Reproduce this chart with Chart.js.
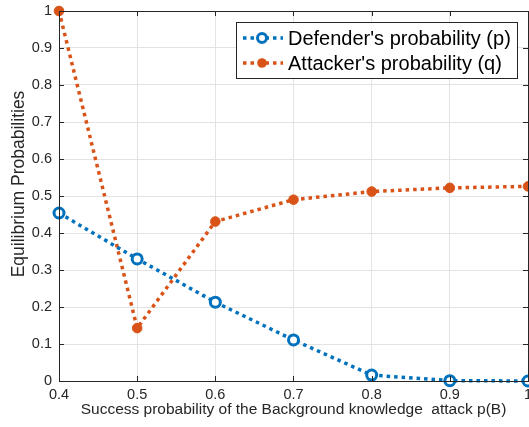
<!DOCTYPE html>
<html><head><meta charset="utf-8">
<script src="https://cdn.jsdelivr.net/npm/chart.js@4/dist/chart.umd.min.js"></script>
<style>html,body{margin:0;padding:0;overflow:hidden;background:#fff;width:529px;height:427px}
#wrap{position:absolute;left:0;top:0;width:560px;height:427px}</style>
</head><body><div id="wrap"><canvas id="c" width="560" height="427"></canvas></div>
<script>
const xValues = [0.4, 0.5, 0.6, 0.7, 0.8, 0.9, 1.0];
const defenderP = [0.454, 0.330, 0.213, 0.111, 0.016, 0.001, 0.000];
const attackerQ = [1.000, 0.143, 0.431, 0.490, 0.512, 0.522, 0.526];
const seriesNames = ["Defender's probability (p)", "Attacker's probability (q)"];
const xTitle = "Success probability of the Background knowledge  attack p(B)";
const yTitle = "Equilibrium Probabilities";
const blue = '#0072BD', orange = '#D95319', axisCol = '#262626';
const FONT = '"Liberation Sans", Arial, sans-serif';

const boxPlugin = {
  id: 'boxPlugin',
  afterDraw(chart) {
    const {ctx} = chart;
    ctx.save();
    ctx.translate(19, 184);
    ctx.rotate(-Math.PI/2);
    ctx.fillStyle = axisCol; ctx.font = '17.5px ' + FONT;
    ctx.textAlign = 'center'; ctx.textBaseline = 'middle';
    ctx.fillText(yTitle, 0, 0);
    ctx.restore();
  },
  afterDatasetsDraw(chart) {
    const {ctx, chartArea: a, scales} = chart;
    ctx.save();
    ctx.strokeStyle = axisCol; ctx.lineWidth = 1;
    ctx.strokeRect(Math.round(a.left)+0.5, Math.round(a.top)+0.5, Math.round(a.right-a.left), Math.round(a.bottom-a.top));
    const tl = 5;
    ctx.beginPath();
    scales.x.ticks.forEach(t => {
      const x = Math.round(scales.x.getPixelForValue(t.value))+0.5;
      ctx.moveTo(x, a.top); ctx.lineTo(x, a.top+tl);
      ctx.moveTo(x, a.bottom); ctx.lineTo(x, a.bottom-tl);
    });
    scales.y.ticks.forEach(t => {
      const y = Math.round(scales.y.getPixelForValue(t.value))+0.5;
      ctx.moveTo(a.left, y); ctx.lineTo(a.left+tl, y);
      ctx.moveTo(a.right, y); ctx.lineTo(a.right-tl, y);
    });
    ctx.stroke();
    // legend
    const lx = 236.5, ly = 22.5, lw = 281, lh = 56;
    ctx.fillStyle = '#fff';
    ctx.fillRect(lx, ly, lw, lh);
    ctx.strokeStyle = axisCol; ctx.lineWidth = 1;
    ctx.strokeRect(lx, ly, lw, lh);
    const rows = [
      {y: 38, col: blue, name: seriesNames[0], open: true},
      {y: 63, col: orange, name: seriesNames[1], open: false}
    ];
    rows.forEach(r => {
      ctx.save();
      ctx.strokeStyle = r.col; ctx.lineWidth = 3.5; ctx.setLineDash([3.5, 4]);
      ctx.beginPath(); ctx.moveTo(243, r.y); ctx.lineTo(283, r.y); ctx.stroke();
      ctx.setLineDash([]);
      ctx.beginPath(); ctx.arc(262, r.y, r.open ? 4.5 : 4.8, 0, Math.PI*2);
      if (r.open) { ctx.fillStyle = '#fff'; ctx.fill(); ctx.lineWidth = 3; ctx.stroke(); }
      else { ctx.fillStyle = r.col; ctx.fill(); }
      ctx.restore();
      ctx.fillStyle = '#000'; ctx.font = '20px ' + FONT; ctx.textBaseline = 'middle'; ctx.textAlign = 'left';
      ctx.fillText(r.name, 288, r.y + 1);
    });
    ctx.restore();
  }
};

new Chart(document.getElementById('c'), {
  type: 'line',
  data: {
    datasets: [
      {label: seriesNames[0], data: xValues.map((x,i)=>({x, y: defenderP[i]})),
       borderColor: blue, backgroundColor: '#fff', borderWidth: 3.5, borderDash: [3.5, 4],
       pointRadius: 5, pointBorderWidth: 3, pointBackgroundColor: '#fff', pointBorderColor: blue, tension: 0, clip: false},
      {label: seriesNames[1], data: xValues.map((x,i)=>({x, y: attackerQ[i]})),
       borderColor: orange, backgroundColor: orange, borderWidth: 3.5, borderDash: [3.5, 4],
       pointRadius: 4.8, pointBorderWidth: 1, pointBackgroundColor: orange, pointBorderColor: orange, tension: 0, clip: false}
    ]
  },
  options: {
    responsive: false, animation: false, devicePixelRatio: 1,
    layout: {padding: {top: 11, right: 32, left: 0, bottom: 0}},
    plugins: {legend: {display: false}, tooltip: {enabled: false}},
    scales: {
      x: {type: 'linear', min: 0.4, max: 1.0,
        afterFit(s){ s.height = 46; s.paddingLeft = 0; s.paddingRight = 0; },
        ticks: {stepSize: 0.1, color: axisCol, padding: 5, font: {family: FONT, size: 14.5},
          callback: v => { const r = Math.round(v*10)/10; return r === 1 ? '1' : r.toString(); }},
        grid: {color: '#e3e3e3', drawTicks: false},
        border: {display: false},
        title: {display: true, text: xTitle, color: axisCol, font: {family: FONT, size: 15.5}, padding: {top: 0, bottom: 8}}
      },
      y: {min: 0, max: 1,
        afterFit(s){ s.width = 59; s.paddingTop = 0; s.paddingBottom = 0; },
        ticks: {stepSize: 0.1, color: axisCol, padding: 7, font: {family: FONT, size: 14.5},
          callback: v => { const r = Math.round(v*10)/10; return r === 0 ? '0' : r === 1 ? '1' : r.toString(); }},
        grid: {color: '#e3e3e3', drawTicks: false},
        border: {display: false},
        title: {display: false}
      }
    }
  },
  plugins: [boxPlugin]
});
</script></body></html>
